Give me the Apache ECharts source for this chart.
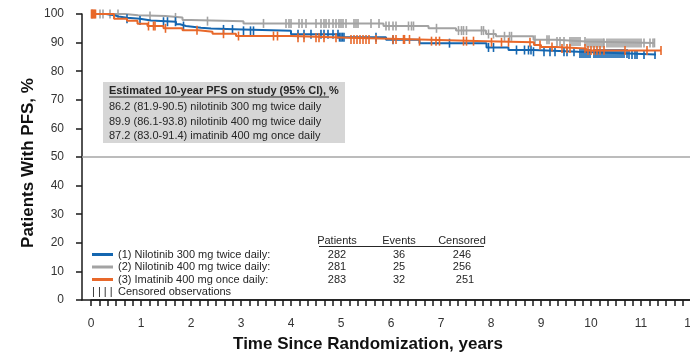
<!DOCTYPE html>
<html>
<head>
<meta charset="utf-8">
<script src="https://cdn.jsdelivr.net/npm/echarts@6/dist/echarts.min.js"></script>
<style>
  html, body { margin: 0; padding: 0; background: #fff; }
  #chart { width: 690px; height: 358px; }
</style>
</head>
<body>
<div id="chart"></div>
<script>
// Kaplan-Meier step curves: time (years) where the estimate changes, and the new PFS %
const nilo300Times = [0, 0.3, 0.46, 0.55, 0.72, 0.98, 1.2, 1.7, 1.78, 1.9, 2.2, 2.4, 3.03, 4.0, 4.95, 5.9, 6.57, 7.91, 8.35, 8.85, 9.75, 10.75, 11.3];
const nilo300Pfs   = [100, 99.6, 99.1, 98.7, 98.3, 97.7, 97.3, 96.4, 95.8, 95.2, 94.9, 94.6, 94.1, 92.9, 91.9, 91.0, 89.8, 88.3, 87.4, 86.8, 86.2, 85.8, 85.8];

const nilo400Times = [0, 0.68, 0.94, 1.49, 1.83, 1.99, 3.05, 5.85, 6.75, 7.3, 7.9, 8.1, 8.85, 9.3, 9.9, 11.27];
const nilo400Pfs   = [100, 99.6, 99.3, 98.8, 97.9, 97.5, 96.7, 95.8, 95.0, 94.2, 93.0, 92.2, 91.0, 90.4, 89.9, 89.9];

const imaTimes = [0, 0.46, 0.72, 0.93, 1.13, 1.45, 1.83, 2.15, 2.43, 2.9, 4.0, 5.16, 6.57, 7.9, 8.86, 9.0, 9.3, 9.9, 11.4];
const imaPfs   = [100, 98.3, 97.6, 96.6, 95.8, 95.0, 94.3, 93.8, 93.1, 92.3, 91.7, 91.1, 90.5, 90.1, 89.2, 88.5, 87.9, 87.2, 87.2];

// Censoring times (years)
const nilo300Censored = [0.72, 0.98, 1.45, 1.53, 1.69, 1.85, 2.65, 2.83, 3.05, 3.19, 3.25, 4.14, 4.26, 4.4, 4.6, 4.66, 4.74, 4.84,
  4.94, 4.97, 5.0, 5.03, 5.06, 5.7, 6.04, 7.17, 7.95, 8.05, 8.51, 8.67, 8.75, 8.8, 8.85, 9.06, 9.18, 9.28, 9.46, 9.52, 9.66,
  9.78, 9.82, 9.86, 9.9, 9.94, 9.98, 10.06, 10.1, 10.14, 10.18, 10.22, 10.26, 10.3, 10.34, 10.38, 10.42, 10.46, 10.5, 10.54,
  10.58, 10.62, 10.66, 10.72, 10.76, 10.82, 10.88, 10.92, 11.06, 11.28];
const nilo400Censored = [0.02, 0.18, 0.24, 0.38, 0.54, 1.18, 1.69, 2.33, 3.45, 3.9, 3.96, 4.0, 4.16, 4.22, 4.3, 4.5, 4.6, 4.66,
  4.7, 4.76, 4.84, 4.9, 4.96, 5.0, 5.04, 5.1, 5.26, 5.3, 5.34, 5.6, 5.76, 5.9, 5.96, 6.04, 6.1, 6.35, 6.41, 6.45, 6.91, 7.35,
  7.41, 7.45, 7.51, 7.81, 7.85, 7.95, 8.05, 8.27, 8.37, 8.41, 8.88, 9.12, 9.16, 9.32, 9.38, 9.46, 9.58, 9.62, 9.66, 9.7, 9.74,
  9.78, 9.88, 9.92, 9.96, 10.0, 10.04, 10.08, 10.12, 10.16, 10.2, 10.24, 10.26, 10.32, 10.36, 10.4, 10.44, 10.48, 10.52,
  10.56, 10.6, 10.64, 10.68, 10.72, 10.76, 10.8, 10.84, 10.88, 10.92, 10.96, 11.0, 11.06, 11.18, 11.24, 11.27];
const imaCensored = [0.01, 0.03, 0.05, 0.07, 0.09, 1.15, 1.25, 1.28, 1.49, 2.12, 2.65, 2.95, 3.65, 3.73, 4.14, 4.26, 4.5, 4.56,
  4.66, 4.9, 5.2, 5.26, 5.32, 5.38, 5.44, 5.5, 5.56, 5.7, 6.04, 6.1, 6.25, 6.27, 6.37, 6.57, 6.81, 6.9, 6.97, 7.45, 7.51,
  7.65, 8.01, 8.21, 8.35, 8.78, 8.98, 9.22, 9.42, 9.52, 9.58, 9.88, 9.94, 10.0, 10.06, 10.12, 10.18, 10.26, 10.68, 11.12, 11.4];

// Axis ranges and tick steps
const yearMin = 0, yearMax = 12, yearStep = 1, monthsPerTick = 2;
const pctMin = 0, pctMax = 100, pctStep = 10;
const referencePct = 50;

// Summary table
const armNames = ['(1) Nilotinib 300 mg twice daily:', '(2) Nilotinib 400 mg twice daily:', '(3) Imatinib 400 mg once daily:'];
const patients = [282, 281, 283];
const events = [36, 25, 32];
const censoredCounts = [246, 256, 251];

// Estimated 10-year PFS box
const boxTitle = 'Estimated 10-year PFS on study (95% CI), %';
const boxLines = [
  '86.2 (81.9-90.5) nilotinib 300 mg twice daily',
  '89.9 (86.1-93.8) nilotinib 400 mg twice daily',
  '87.2 (83.0-91.4) imatinib 400 mg once daily'
];

const BLUE = '#1466b0';
const GREY = '#a3a3a3';
const ORANGE = '#e8682a';
const TEXT = '#262626';
const AXIS = '#1a1a1a';
const FONT = '"Liberation Sans", Arial, sans-serif';

// Plot geometry: the y axis sits a little left of year 0
const PX_PER_YEAR = 50;
const LEAD = 0.18; // years between the y axis and year 0
const plotLeft = 82, plotTop = 14, plotHeight = 286;

function pairs(times, vals) {
  return times.map((t, i) => [t, vals[i]]);
}
function survivalAt(times, vals, t) {
  let v = vals[0];
  for (let i = 0; i < times.length; i++) {
    if (times[i] <= t) v = vals[i];
  }
  return v;
}
function censorPoints(cens, times, vals) {
  return cens.map(t => [t, survivalAt(times, vals, t)]);
}

function curve(name, times, vals, color, z) {
  return {
    name, type: 'line', step: 'end', data: pairs(times, vals),
    xAxisIndex: 0, yAxisIndex: 0,
    showSymbol: false, symbol: 'none', z,
    lineStyle: { color, width: 2 }, silent: true, animation: false
  };
}
function ticks(name, cens, times, vals, color, z) {
  return {
    name: name + ' censored', type: 'scatter', data: censorPoints(cens, times, vals),
    xAxisIndex: 0, yAxisIndex: 0,
    symbol: 'rect', symbolSize: [1.6, 9], z,
    itemStyle: { color, opacity: 1 }, silent: true, animation: false
  };
}

function txt(x, y, text, font, align, extra) {
  return Object.assign({
    type: 'text', x, y,
    style: { text, font, fill: TEXT, textAlign: align, textVerticalAlign: 'middle', align, verticalAlign: 'middle' }
  }, extra || {});
}

const graphics = [];
// Axis titles
const yTitle = txt(28, 163, 'Patients With PFS, %', 'bold 17px ' + FONT, 'center', { rotation: Math.PI / 2 });
yTitle.style.fill = '#111';
graphics.push(yTitle);
const xTitle = txt(368, 344, 'Time Since Randomization, years', 'bold 17px ' + FONT, 'center');
xTitle.style.fill = '#111';
graphics.push(xTitle);

// Estimate box
graphics.push({ type: 'rect', shape: { x: 103, y: 82, width: 242, height: 61 }, style: { fill: '#d6d6d6' }, z: 1 });
graphics.push(txt(109, 91, boxTitle, 'bold 11px ' + FONT, 'left', { z: 2 }));
graphics.push({ type: 'line', shape: { x1: 109, y1: 97, x2: 329, y2: 97 }, style: { stroke: TEXT, lineWidth: 1 }, z: 2 });
boxLines.forEach((s, i) => graphics.push(txt(109, 107 + i * 14.5, s, '11px ' + FONT, 'left', { z: 2 })));

// Legend with summary table
const legendColors = [BLUE, GREY, ORANGE];
const colX = [337, 399, 462];
['Patients', 'Events', 'Censored'].forEach((h, i) => graphics.push(txt(colX[i], 241, h, '11px ' + FONT, 'center')));
graphics.push({ type: 'line', shape: { x1: 319, y1: 246.5, x2: 484, y2: 246.5 }, style: { stroke: TEXT, lineWidth: 1 } });
armNames.forEach((name, i) => {
  const y = 254.5 + i * 12.5;
  graphics.push({ type: 'line', shape: { x1: 92, y1: y, x2: 113, y2: y }, style: { stroke: legendColors[i], lineWidth: 3 } });
  graphics.push(txt(118, y, name, '11px ' + FONT, 'left'));
  [patients[i], events[i], censoredCounts[i]].forEach((v, j) => {
    graphics.push(txt(colX[j] + (j === 2 && i === 2 ? 3 : 0), y, String(v), '11px ' + FONT, 'center'));
  });
});
graphics.push(txt(92, 292, '| | | |', '11px ' + FONT, 'left'));
graphics.push(txt(118, 292, 'Censored observations', '11px ' + FONT, 'left'));

const chart = echarts.init(document.getElementById('chart'), null, { renderer: 'canvas' });
chart.setOption({
  animation: false,
  backgroundColor: '#ffffff',
  grid: [
    // data grid, starting at the y axis
    { left: plotLeft, top: plotTop, width: (yearMax - yearMin + LEAD) * PX_PER_YEAR, height: plotHeight,
      containLabel: false, outerBoundsMode: 'none' },
    // tick grid, starting at year 0
    { left: plotLeft + LEAD * PX_PER_YEAR, top: plotTop, width: (yearMax - yearMin) * PX_PER_YEAR, height: plotHeight,
      containLabel: false, outerBoundsMode: 'none' }
  ],
  xAxis: [
    {
      gridIndex: 0, type: 'value', min: yearMin - LEAD, max: yearMax,
      axisLine: { show: true, onZero: false, lineStyle: { color: AXIS, width: 1.5 } },
      axisTick: { show: false }, axisLabel: { show: false }, splitLine: { show: false }
    },
    {
      gridIndex: 1, type: 'value', min: yearMin, max: yearMax, interval: yearStep,
      axisLine: { show: true, onZero: false, lineStyle: { color: AXIS, width: 1.5 } },
      axisTick: { show: true, inside: false, length: 6, lineStyle: { color: AXIS, width: 1.5 } },
      minorTick: { show: true, splitNumber: 12 / monthsPerTick, length: 6, lineStyle: { color: AXIS, width: 1.5 } },
      axisLabel: { color: '#333', fontSize: 12, fontFamily: FONT, margin: 18, showMinLabel: true, showMaxLabel: true },
      splitLine: { show: false }
    }
  ],
  yAxis: [
    {
      gridIndex: 0, type: 'value', min: pctMin, max: pctMax, interval: pctStep,
      axisLine: { show: true, onZero: false, lineStyle: { color: AXIS, width: 1.5 } },
      axisTick: { show: true, inside: false, length: 6, lineStyle: { color: AXIS, width: 1.5 } },
      axisLabel: { color: '#333', fontSize: 12, fontFamily: FONT, margin: 18 },
      splitLine: { show: false }
    },
    { gridIndex: 1, type: 'value', min: pctMin, max: pctMax, show: false }
  ],
  series: [
    Object.assign(curve('Nilotinib 400 mg', nilo400Times, nilo400Pfs, GREY, 3), {
      markLine: {
        silent: true, symbol: 'none', label: { show: false },
        lineStyle: { color: '#a6a6a6', width: 1.5, type: 'solid' },
        data: [{ yAxis: referencePct }]
      }
    }),
    ticks('Nilotinib 400 mg', nilo400Censored, nilo400Times, nilo400Pfs, GREY, 3),
    curve('Nilotinib 300 mg', nilo300Times, nilo300Pfs, BLUE, 4),
    ticks('Nilotinib 300 mg', nilo300Censored, nilo300Times, nilo300Pfs, BLUE, 4),
    curve('Imatinib 400 mg', imaTimes, imaPfs, ORANGE, 5),
    ticks('Imatinib 400 mg', imaCensored, imaTimes, imaPfs, ORANGE, 5)
  ],
  graphic: graphics
});
</script>
</body>
</html>
